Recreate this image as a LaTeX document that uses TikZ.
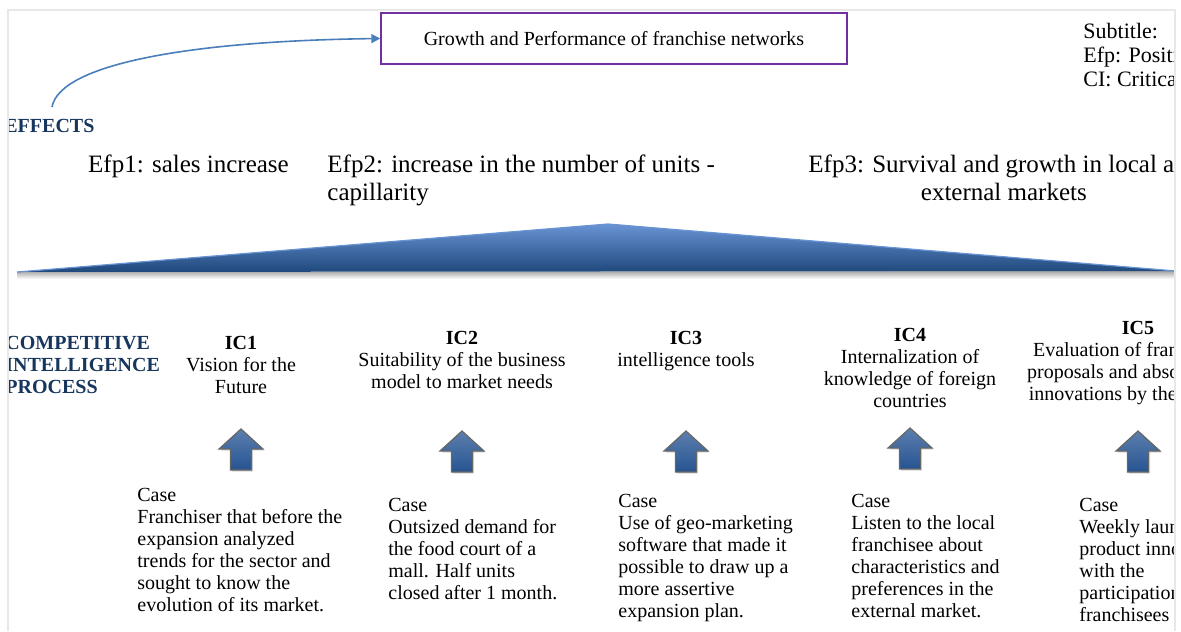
\documentclass[tikz,border=0pt]{standalone}
\usepackage{fontspec}
\setmainfont{Liberation Serif}
\usepackage{tikz}
\usetikzlibrary{arrows.meta,shadows}

\definecolor{effblue}{RGB}{74,126,187}
\definecolor{boxpurple}{RGB}{112,48,160}
\definecolor{navytext}{RGB}{23,54,93}
\definecolor{wedgetop}{RGB}{105,148,212}
\definecolor{wedgemid}{RGB}{44,88,148}
\definecolor{wedgedark}{RGB}{31,72,124}
\definecolor{blockblue}{RGB}{38,84,146}
\definecolor{framegray}{RGB}{232,232,232}

\tikzset{
  plaintext/.style={inner sep=0pt, font=\fontsize{10}{11}\selectfont},
  casetext/.style={plaintext, anchor=north west, align=left},
  ictext/.style={plaintext, anchor=north, align=center},
  efptext/.style={inner sep=0pt, font=\fontsize{12.5}{14}\selectfont},
  headtext/.style={inner sep=0pt, font=\fontsize{10}{11}\selectfont\bfseries, text=navytext},
  upblock/.style={top color=blockblue!75!white, bottom color=blockblue, draw=black!60, line width=0.6pt,
    drop shadow={shadow xshift=0.8pt, shadow yshift=-0.8pt, opacity=0.3}},
}

\begin{document}
\begin{tikzpicture}[x=0.5pt, y=-0.5pt]
	\useasboundingbox (0,0) rectangle (1181,631);
	\begin{scope}
		\clip (8,0) rectangle (1174,631);
		
		% top box and the arrow from the effects
		\node[draw=boxpurple, line width=0.7pt, minimum width=233pt, minimum height=25.5pt, inner sep=0pt,
			font=\fontsize{10}{11}\selectfont] (growth) at (614,38.5) {Growth and Performance of franchise networks};
		\coordinate (effstart) at (52,107);
		\draw[effblue, line width=0.8pt, -{Triangle[length=4.5pt,width=4.5pt]}]
			(effstart) .. controls (60,64) and (190,41) .. (growth.west);
		
		\node[plaintext, anchor=north west, align=left, font=\fontsize{11}{12}\selectfont] (legend) at (1083,21)
			{\strut Subtitle:\\Efp: Positive effects\\CI: Critical incidents};
		
		\node[headtext, anchor=base west] (effects) at (4,133) {EFFECTS};
		
		% effects
		\node[efptext, anchor=north] (efp1) at (188.5,152) {\strut Efp1: sales increase};
		\node[efptext, anchor=north west, align=left] (efp2) at (327,152)
			{\strut Efp2: increase in the number of units -\\capillarity};
		\node[efptext, anchor=north west, align=center] (efp3) at (808,152)
			{\strut Efp3: Survival and growth in local and\\external markets};
		
		% wedge
		\shade[top color=black!35, bottom color=white] (17,272) -- (1176,271) -- (1176,279) -- (17,279) -- cycle;
		\shade[top color=wedgetop, middle color=wedgedark, bottom color=wedgedark]
			(17,272) -- (608,224) -- (1176,271) -- cycle;
		\draw[wedgetop, line width=0.6pt] (17,272) -- (608,224) -- (1176,271);
		
		% competitive intelligence
		\node[headtext, anchor=north west, align=left] (cip) at (5,334)
			{\strut COMPETITIVE\\INTELLIGENCE\\PROCESS};
		\node[ictext] (ic1) at (241,334) {\strut\textbf{IC1}\\Vision for the\\Future};
		\node[ictext] (ic2) at (462,329) {\strut\textbf{IC2}\\Suitability of the business\\model to market needs};
		\node[ictext] (ic3) at (686,329) {\strut\textbf{IC3}\\intelligence tools};
		\node[ictext] (ic4) at (910,326) {\strut\textbf{IC4}\\Internalization of\\knowledge of foreign\\countries};
		\node[ictext] (ic5) at (1138,319) {\strut\textbf{IC5}\\Evaluation of franchisees'\\proposals and absorption of\\innovations by the network};
		
		% up arrows
		\draw[upblock] (241,429) -- ++(22,20) -- ++(-11.5,0) -- ++(0,21) -- ++(-21,0) -- ++(0,-21) -- ++(-11.5,0) -- cycle;
		\draw[upblock] (462,431) -- ++(22,20) -- ++(-11.5,0) -- ++(0,21) -- ++(-21,0) -- ++(0,-21) -- ++(-11.5,0) -- cycle;
		\draw[upblock] (686,431) -- ++(22,20) -- ++(-11.5,0) -- ++(0,21) -- ++(-21,0) -- ++(0,-21) -- ++(-11.5,0) -- cycle;
		\draw[upblock] (910,428) -- ++(22,20) -- ++(-11.5,0) -- ++(0,21) -- ++(-21,0) -- ++(0,-21) -- ++(-11.5,0) -- cycle;
		\draw[upblock] (1138,431) -- ++(22,20) -- ++(-11.5,0) -- ++(0,21) -- ++(-21,0) -- ++(0,-21) -- ++(-11.5,0) -- cycle;
		
		% cases
		\node[casetext] (case1) at (137,486)
			{\strut Case\\Franchiser that before the\\expansion analyzed\\trends for the sector and\\sought to know the\\evolution of its market.};
		\node[casetext] (case2) at (388,496)
			{\strut Case\\Outsized demand for\\the food court of a\\mall. Half units\\closed after 1 month.};
		\node[casetext] (case3) at (618,492)
			{\strut Case\\Use of geo-marketing\\software that made it\\possible to draw up a\\more assertive\\expansion plan.};
		\node[casetext] (case4) at (851,492)
			{\strut Case\\Listen to the local\\franchisee about\\characteristics and\\preferences in the\\external market.};
		\node[casetext] (case5) at (1079,496)
			{\strut Case\\Weekly launches of\\product innovations\\with the\\participation of\\franchisees};
	\end{scope}
	\draw[framegray, line width=0.8pt] (8,631) -- (8,10) -- (1175,10) -- (1175,631);
\end{tikzpicture}
\end{document}
